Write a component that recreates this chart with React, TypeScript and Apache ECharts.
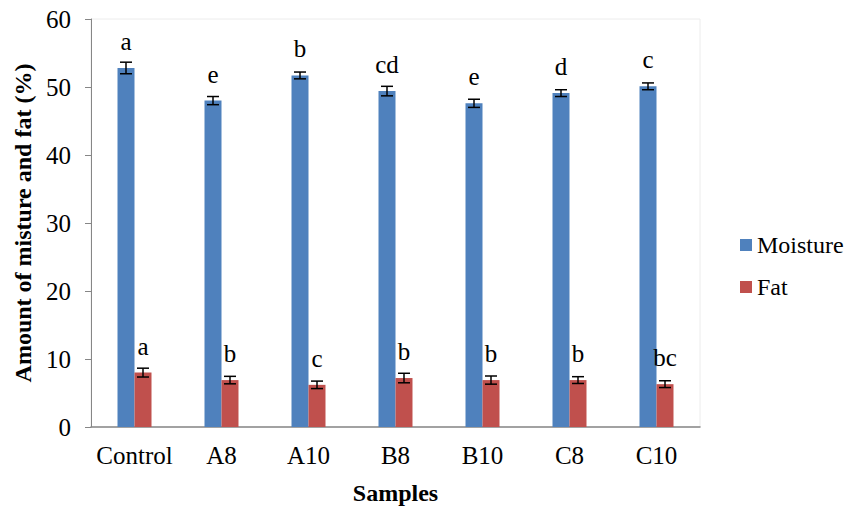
import React, { useEffect, useRef } from "react";
import * as echarts from "echarts";

const categories = ["Control", "A8", "A10", "B8", "B10", "C8", "C10"];
const moisture = [52.8, 48.0, 51.7, 49.4, 47.6, 49.1, 50.1];
const moistureErr = [0.85, 0.6, 0.5, 0.7, 0.6, 0.5, 0.5];
const fat = [8.0, 6.9, 6.2, 7.2, 6.9, 6.9, 6.3];
const fatErr = [0.65, 0.55, 0.55, 0.7, 0.6, 0.5, 0.5];
const moistureLetters = ["a", "e", "b", "cd", "e", "d", "c"];
const fatLetters = ["a", "b", "c", "b", "b", "b", "bc"];
const yTicks = { min: 0, max: 60, interval: 10 };

const FONT = "Liberation Serif";
const BAR_W = 17;

function errorSeries(name: string, vals: number[], errs: number[], offset: number) {
  return {
    name: name + "-err",
    type: "custom",
    z: 5,
    silent: true,
    data: vals.map((v, i) => [i, v, errs[i]]),
    encode: { x: 0, y: 1 },
    renderItem: (params: any, api: any) => {
      const idx = api.value(0);
      const v = api.value(1);
      const e = api.value(2);
      const x = api.coord([idx, v])[0] + offset;
      const yTop = api.coord([idx, v + e])[1];
      const yBot = api.coord([idx, v - e])[1];
      const half = 6;
      const style = { stroke: "#000", lineWidth: 1.5 };
      return {
        type: "group",
        children: [
          { type: "line", shape: { x1: x, y1: yTop, x2: x, y2: yBot }, style },
          { type: "line", shape: { x1: x - half, y1: yTop, x2: x + half, y2: yTop }, style },
          { type: "line", shape: { x1: x - half, y1: yBot, x2: x + half, y2: yBot }, style },
        ],
      };
    },
  };
}

export default function App() {
  const ref = useRef<HTMLDivElement>(null);
  useEffect(() => {
    if (!ref.current) return;
    const chart = echarts.init(ref.current, undefined, { renderer: "svg" });
    const letterLabel = (letters: string[]) => ({
      show: true,
      position: "top",
      distance: 14,
      fontFamily: FONT,
      fontSize: 25,
      color: "#000",
      formatter: (p: any) => letters[p.dataIndex],
    });
    chart.setOption({
      animation: false,
      backgroundColor: "#fff",
      textStyle: { fontFamily: FONT },
      grid: {
        left: 91,
        right: 149,
        top: 19,
        bottom: 80,
        show: true,
        borderColor: "#ececec",
        borderWidth: 1,
      },
      legend: {
        orient: "vertical",
        left: 735,
        top: 228,
        itemWidth: 12,
        itemHeight: 12,
        itemGap: 18,
        icon: "rect",
        data: ["Moisture", "Fat"],
        textStyle: { fontFamily: FONT, fontSize: 24, color: "#000" },
      },
      xAxis: {
        type: "category",
        data: categories,
        name: "Samples",
        nameLocation: "middle",
        nameGap: 54,
        nameTextStyle: { fontFamily: FONT, fontSize: 24, fontWeight: "bold", color: "#000" },
        axisLine: { lineStyle: { color: "#868686", width: 1.5 } },
        axisTick: { show: false },
        axisLabel: { interval: 0, fontFamily: FONT, fontSize: 25, color: "#000", margin: 16 },
      },
      yAxis: {
        type: "value",
        min: yTicks.min,
        max: yTicks.max,
        interval: yTicks.interval,
        name: "Amount of misture and fat (%)",
        nameLocation: "middle",
        nameGap: 52,
        nameTextStyle: { fontFamily: FONT, fontSize: 24, fontWeight: "bold", color: "#000" },
        axisLine: { show: true, lineStyle: { color: "#868686", width: 1 } },
        axisTick: { show: true, inside: false, length: 6, lineStyle: { color: "#868686" } },
        splitLine: { show: false },
        axisLabel: { fontFamily: FONT, fontSize: 25, color: "#000", margin: 20 },
      },
      series: [
        {
          name: "Moisture",
          type: "bar",
          data: moisture,
          barWidth: BAR_W,
          barGap: "0%",
          itemStyle: { color: "#4F81BD" },
          label: letterLabel(moistureLetters),
        },
        {
          name: "Fat",
          type: "bar",
          data: fat,
          barWidth: BAR_W,
          barGap: "0%",
          itemStyle: { color: "#C0504D" },
          label: letterLabel(fatLetters),
        },
        errorSeries("Moisture", moisture, moistureErr, -BAR_W / 2),
        errorSeries("Fat", fat, fatErr, BAR_W / 2),
      ],
    });
    return () => chart.dispose();
  }, []);
  return <div ref={ref} style={{ width: 849, height: 510, position: "absolute", left: 0, top: 0 }} />;
}
